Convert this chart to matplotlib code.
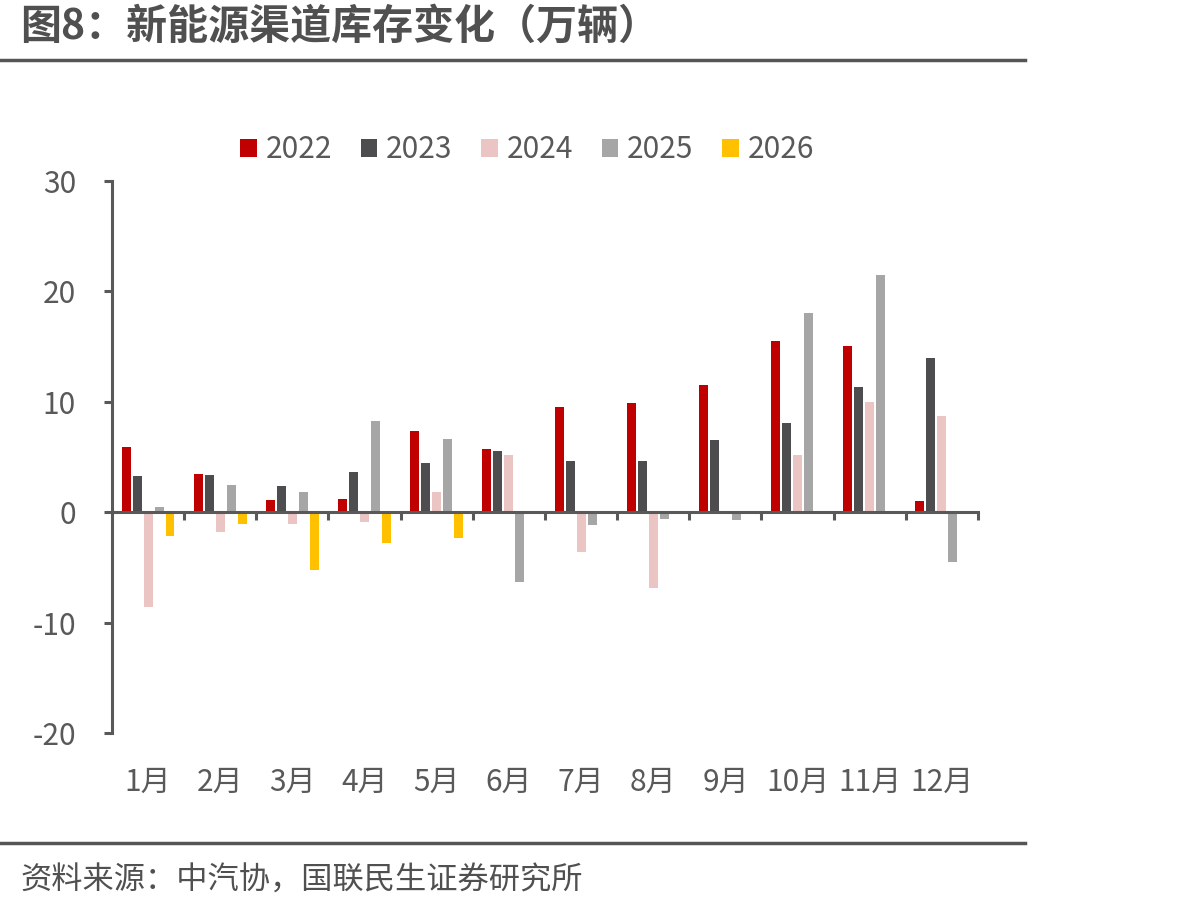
import numpy as np
import matplotlib
matplotlib.use("Agg")
from matplotlib import pyplot as plt
from matplotlib.lines import Line2D
from matplotlib.transforms import blended_transform_factory

plt.rcParams['font.family'] = ['Noto Sans CJK SC', 'DejaVu Sans']
plt.rcParams['axes.unicode_minus'] = False

months = ["1月", "2月", "3月", "4月", "5月", "6月", "7月", "8月", "9月", "10月", "11月", "12月"]
years = ["2022", "2023", "2024", "2025", "2026"]

# 万辆
v2022 = [5.9, 3.5, 1.1, 1.2, 7.4, 5.7, 9.5, 9.85, 11.55, 15.5, 15.1, 1.05]
v2023 = [3.3, 3.35, 2.35, 3.6, 4.5, 5.5, 4.6, 4.6, 6.55, 8.05, 11.35, 14.0]
v2024 = [-8.6, -1.8, -1.1, -0.9, 1.85, 5.15, -3.65, -6.85, np.nan, 5.2, 9.95, 8.7]
v2025 = [0.5, 2.5, 1.85, 8.3, 6.65, -6.3, -1.2, -0.65, -0.7, 18.0, 21.5, -4.5]
v2026 = [-2.2, -1.05, -5.2, -2.75, -2.3, np.nan, np.nan, np.nan, np.nan, np.nan, np.nan, np.nan]

series = [v2022, v2023, v2024, v2025, v2026]
colors = ["#C00000", "#4D4D4F", "#EBC4C4", "#A6A6A6", "#FFC000"]

axis_col = "#595959"
text_col = "#595959"
fs = 21.5

fig = plt.figure(figsize=(11.79, 9.11), dpi=100)
ax = fig.add_axes([0.095, 0.1954, 0.7345, 0.6059])

x = np.arange(len(months))
step = 0.152
width = 0.124
for k, (vals, c, lab) in enumerate(zip(series, colors, years)):
    ax.bar(x + (k - 2) * step, vals, width=width, color=c, label=lab, zorder=2)

ax.set_xlim(-0.5, 11.5)
ax.set_ylim(-20, 30)
ax.set_yticks([-20, -10, 0, 10, 20, 30])
ax.set_xticks(np.arange(0.5, 11.6, 1.0))
ax.set_xticklabels([])

for s in ["top", "right"]:
    ax.spines[s].set_visible(False)
ax.spines["bottom"].set_position(("data", 0))
for s in ["left", "bottom"]:
    ax.spines[s].set_color(axis_col)
    ax.spines[s].set_linewidth(2.2)
    ax.spines[s].set_zorder(3)

ax.tick_params(axis="y", direction="out", length=6, width=2.2, color=axis_col,
               labelsize=fs, labelcolor=text_col, pad=20)
ax.tick_params(axis="x", direction="out", length=6, width=2.2, color=axis_col)

trans = blended_transform_factory(ax.transData, ax.transAxes)
for i, m in enumerate(months):
    ax.text(i, -0.09, m, transform=trans, ha="center", va="center",
            fontsize=fs, color=text_col)

fig.legend(loc="center", bbox_to_anchor=(0.447, 1 - 150 / 911), ncol=5,
           frameon=False, fontsize=fs, handlelength=0.56, handleheight=0.56,
           handletextpad=0.3, columnspacing=0.95, labelcolor=text_col)

# title and frame lines
fig.text(20 / 1179, 1 - 27 / 911, "图8：新能源渠道库存变化（万辆）", fontsize=29.5,
         fontweight="bold", color="#505050", ha="left", va="center")
fig.add_artist(Line2D([0, 1025 / 1179], [1 - 60 / 911] * 2, color="#555555", lw=2.5))
fig.add_artist(Line2D([0, 1025 / 1179], [1 - 843 / 911] * 2, color="#555555", lw=2.5))
fig.text(20 / 1179, 1 - 881 / 911, "资料来源：中汽协，国联民生证券研究所", fontsize=22.5,
         color="#505050", ha="left", va="center")

fig.savefig("out.png", dpi=100)
